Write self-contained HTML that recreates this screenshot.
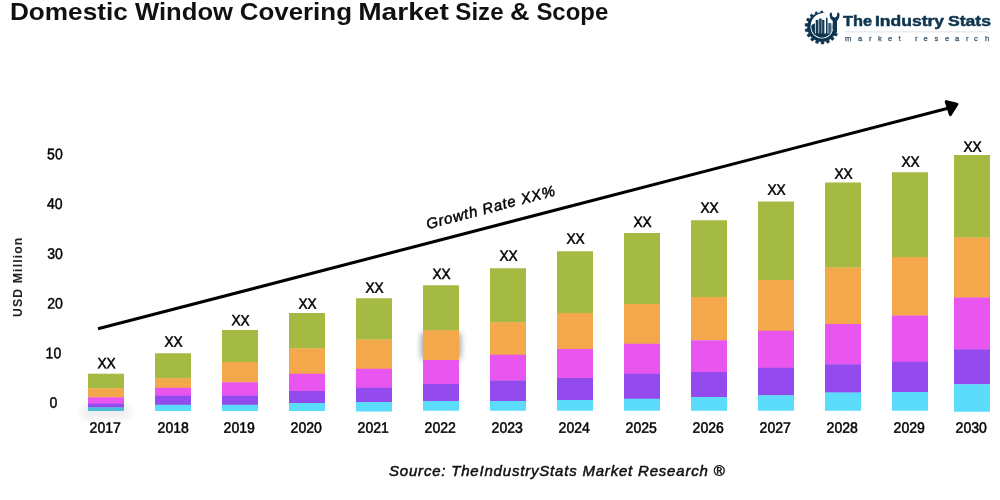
<!DOCTYPE html>
<html><head><meta charset="utf-8"><title>Domestic Window Covering Market Size &amp; Scope</title>
<style>
html,body{margin:0;padding:0;background:#fff;}
body{width:1000px;height:500px;overflow:hidden;font-family:"Liberation Sans",sans-serif;}
svg{display:block;will-change:transform;}
text{font-family:"Liberation Sans",sans-serif;}
.xx{font-size:15.0px;text-anchor:middle;fill:#000;stroke:#000;stroke-width:0.5px;}
.yr{font-size:15.0px;text-anchor:middle;fill:#000;stroke:#000;stroke-width:0.5px;}
.yl{font-size:15.2px;text-anchor:middle;fill:#000;stroke:#000;stroke-width:0.45px;}
.yt{font-size:12.3px;font-weight:bold;text-anchor:middle;fill:#222;letter-spacing:1.1px;}
.gr{font-size:15px;font-style:italic;fill:#000;letter-spacing:0.78px;stroke:#000;stroke-width:0.45px;}
.src{font-size:15px;font-style:italic;fill:#111;letter-spacing:0.8px;stroke:#111;stroke-width:0.5px;}
.ti{font-size:23.6px;font-weight:bold;fill:#111;}
.lg{font-size:15.4px;font-weight:bold;fill:#0d3550;stroke:#0d3550;stroke-width:0.5px;}
.mr{font-size:7.6px;fill:#34536b;stroke:#34536b;stroke-width:0.25px;}
</style></head><body>
<svg width="1000" height="500" viewBox="0 0 1000 500">
<defs><filter id="sh" x="-50%" y="-50%" width="200%" height="200%"><feGaussianBlur stdDeviation="3.2"/></filter><filter id="sh2" x="-50%" y="-100%" width="200%" height="300%"><feGaussianBlur stdDeviation="3.5"/></filter></defs>
<rect x="421.5" y="333" width="39" height="26" fill="#000" opacity="0.4" filter="url(#sh)"/>
<rect x="82" y="405" width="48" height="14" fill="#000" opacity="0.065" filter="url(#sh2)"/>
<rect x="88" y="373.7" width="36" height="14.85" fill="#a4ba43"/>
<rect x="88" y="388.25" width="36" height="9.35" fill="#f4a84c"/>
<rect x="88" y="397.3" width="36" height="6.60" fill="#e956ef"/>
<rect x="88" y="403.6" width="36" height="4.10" fill="#934bed"/>
<rect x="88" y="407.4" width="36" height="3.60" fill="#4bbcd5"/>
<rect x="155" y="353.25" width="36" height="25.30" fill="#a4ba43"/>
<rect x="155" y="378.25" width="36" height="9.80" fill="#f4a84c"/>
<rect x="155" y="387.75" width="36" height="8.30" fill="#e956ef"/>
<rect x="155" y="395.75" width="36" height="9.30" fill="#934bed"/>
<rect x="155" y="404.75" width="36" height="6.25" fill="#5bdcfb"/>
<rect x="222" y="330" width="36" height="32.30" fill="#a4ba43"/>
<rect x="222" y="362" width="36" height="20.55" fill="#f4a84c"/>
<rect x="222" y="382.25" width="36" height="13.80" fill="#e956ef"/>
<rect x="222" y="395.75" width="36" height="9.30" fill="#934bed"/>
<rect x="222" y="404.75" width="36" height="6.25" fill="#5bdcfb"/>
<rect x="289" y="313" width="36" height="35.55" fill="#a4ba43"/>
<rect x="289" y="348.25" width="36" height="25.80" fill="#f4a84c"/>
<rect x="289" y="373.75" width="36" height="17.55" fill="#e956ef"/>
<rect x="289" y="391" width="36" height="12.30" fill="#934bed"/>
<rect x="289" y="403" width="36" height="8.00" fill="#5bdcfb"/>
<rect x="356" y="298.25" width="36" height="41.55" fill="#a4ba43"/>
<rect x="356" y="339.5" width="36" height="29.55" fill="#f4a84c"/>
<rect x="356" y="368.75" width="36" height="19.30" fill="#e956ef"/>
<rect x="356" y="387.75" width="36" height="14.55" fill="#934bed"/>
<rect x="356" y="402" width="36" height="9.50" fill="#5bdcfb"/>
<rect x="423" y="285.25" width="36" height="45.30" fill="#a4ba43"/>
<rect x="423" y="330.25" width="36" height="30.05" fill="#f4a84c"/>
<rect x="423" y="360" width="36" height="24.30" fill="#e956ef"/>
<rect x="423" y="384" width="36" height="17.30" fill="#934bed"/>
<rect x="423" y="401" width="36" height="9.75" fill="#5bdcfb"/>
<rect x="490" y="268.25" width="36" height="54.30" fill="#a4ba43"/>
<rect x="490" y="322.25" width="36" height="32.80" fill="#f4a84c"/>
<rect x="490" y="354.75" width="36" height="26.05" fill="#e956ef"/>
<rect x="490" y="380.5" width="36" height="20.80" fill="#934bed"/>
<rect x="490" y="401" width="36" height="9.75" fill="#5bdcfb"/>
<rect x="557" y="251.25" width="36" height="62.05" fill="#a4ba43"/>
<rect x="557" y="313" width="36" height="36.30" fill="#f4a84c"/>
<rect x="557" y="349" width="36" height="29.30" fill="#e956ef"/>
<rect x="557" y="378" width="36" height="22.30" fill="#934bed"/>
<rect x="557" y="400" width="36" height="10.75" fill="#5bdcfb"/>
<rect x="624" y="233" width="36" height="71.30" fill="#a4ba43"/>
<rect x="624" y="304" width="36" height="40.05" fill="#f4a84c"/>
<rect x="624" y="343.75" width="36" height="30.30" fill="#e956ef"/>
<rect x="624" y="373.75" width="36" height="25.30" fill="#934bed"/>
<rect x="624" y="398.75" width="36" height="12.00" fill="#5bdcfb"/>
<rect x="691" y="220.25" width="36" height="77.05" fill="#a4ba43"/>
<rect x="691" y="297" width="36" height="43.55" fill="#f4a84c"/>
<rect x="691" y="340.25" width="36" height="32.05" fill="#e956ef"/>
<rect x="691" y="372" width="36" height="25.30" fill="#934bed"/>
<rect x="691" y="397" width="36" height="13.75" fill="#5bdcfb"/>
<rect x="758" y="201.5" width="36" height="78.80" fill="#a4ba43"/>
<rect x="758" y="280" width="36" height="51.05" fill="#f4a84c"/>
<rect x="758" y="330.75" width="36" height="37.30" fill="#e956ef"/>
<rect x="758" y="367.75" width="36" height="27.80" fill="#934bed"/>
<rect x="758" y="395.25" width="36" height="15.50" fill="#5bdcfb"/>
<rect x="825" y="182.5" width="36" height="85.30" fill="#a4ba43"/>
<rect x="825" y="267.5" width="36" height="56.80" fill="#f4a84c"/>
<rect x="825" y="324" width="36" height="40.55" fill="#e956ef"/>
<rect x="825" y="364.25" width="36" height="28.55" fill="#934bed"/>
<rect x="825" y="392.5" width="36" height="18.25" fill="#5bdcfb"/>
<rect x="892" y="172.25" width="36" height="85.05" fill="#a4ba43"/>
<rect x="892" y="257" width="36" height="58.80" fill="#f4a84c"/>
<rect x="892" y="315.5" width="36" height="46.55" fill="#e956ef"/>
<rect x="892" y="361.75" width="36" height="30.55" fill="#934bed"/>
<rect x="892" y="392" width="36" height="18.75" fill="#5bdcfb"/>
<rect x="954" y="155" width="36" height="82.80" fill="#a4ba43"/>
<rect x="954" y="237.5" width="36" height="60.30" fill="#f4a84c"/>
<rect x="954" y="297.5" width="36" height="52.05" fill="#e956ef"/>
<rect x="954" y="349.25" width="36" height="35.30" fill="#934bed"/>
<rect x="954" y="384.25" width="36" height="27.50" fill="#5bdcfb"/>
<text x="106.5" y="368.2" transform="rotate(0.2 106.5 368.4)" class="xx" textLength="18.2" lengthAdjust="spacingAndGlyphs">XX</text>
<text x="105.2" y="432.7" transform="rotate(0.2 105.2 432.7)" class="yr" textLength="31.2" lengthAdjust="spacingAndGlyphs">2017</text>
<text x="173.5" y="346.8" transform="rotate(0.2 173.5 347.0)" class="xx" textLength="18.2" lengthAdjust="spacingAndGlyphs">XX</text>
<text x="173.2" y="432.7" transform="rotate(0.2 173.2 432.7)" class="yr" textLength="31.2" lengthAdjust="spacingAndGlyphs">2018</text>
<text x="240.5" y="325.4" transform="rotate(0.2 240.5 325.6)" class="xx" textLength="18.2" lengthAdjust="spacingAndGlyphs">XX</text>
<text x="239.2" y="432.7" transform="rotate(0.2 239.2 432.7)" class="yr" textLength="31.2" lengthAdjust="spacingAndGlyphs">2019</text>
<text x="307.5" y="308.8" transform="rotate(0.2 307.5 309.0)" class="xx" textLength="18.2" lengthAdjust="spacingAndGlyphs">XX</text>
<text x="306.2" y="432.7" transform="rotate(0.2 306.2 432.7)" class="yr" textLength="31.2" lengthAdjust="spacingAndGlyphs">2020</text>
<text x="374.5" y="292.8" transform="rotate(0.2 374.5 293.0)" class="xx" textLength="18.2" lengthAdjust="spacingAndGlyphs">XX</text>
<text x="373.2" y="432.7" transform="rotate(0.2 373.2 432.7)" class="yr" textLength="31.2" lengthAdjust="spacingAndGlyphs">2021</text>
<text x="441.5" y="279.0" transform="rotate(0.2 441.5 279.2)" class="xx" textLength="18.2" lengthAdjust="spacingAndGlyphs">XX</text>
<text x="440.2" y="432.7" transform="rotate(0.2 440.2 432.7)" class="yr" textLength="31.2" lengthAdjust="spacingAndGlyphs">2022</text>
<text x="508.5" y="260.8" transform="rotate(0.2 508.5 261.0)" class="xx" textLength="18.2" lengthAdjust="spacingAndGlyphs">XX</text>
<text x="507.2" y="432.7" transform="rotate(0.2 507.2 432.7)" class="yr" textLength="31.2" lengthAdjust="spacingAndGlyphs">2023</text>
<text x="575.5" y="243.8" transform="rotate(0.2 575.5 244.0)" class="xx" textLength="18.2" lengthAdjust="spacingAndGlyphs">XX</text>
<text x="574.2" y="432.7" transform="rotate(0.2 574.2 432.7)" class="yr" textLength="31.2" lengthAdjust="spacingAndGlyphs">2024</text>
<text x="642.5" y="227.0" transform="rotate(0.2 642.5 227.2)" class="xx" textLength="18.2" lengthAdjust="spacingAndGlyphs">XX</text>
<text x="641.2" y="432.7" transform="rotate(0.2 641.2 432.7)" class="yr" textLength="31.2" lengthAdjust="spacingAndGlyphs">2025</text>
<text x="709.5" y="212.8" transform="rotate(0.2 709.5 213.0)" class="xx" textLength="18.2" lengthAdjust="spacingAndGlyphs">XX</text>
<text x="708.2" y="432.7" transform="rotate(0.2 708.2 432.7)" class="yr" textLength="31.2" lengthAdjust="spacingAndGlyphs">2026</text>
<text x="776.5" y="194.8" transform="rotate(0.2 776.5 195.0)" class="xx" textLength="18.2" lengthAdjust="spacingAndGlyphs">XX</text>
<text x="775.2" y="432.7" transform="rotate(0.2 775.2 432.7)" class="yr" textLength="31.2" lengthAdjust="spacingAndGlyphs">2027</text>
<text x="843.5" y="178.8" transform="rotate(0.2 843.5 179.0)" class="xx" textLength="18.2" lengthAdjust="spacingAndGlyphs">XX</text>
<text x="842.2" y="432.7" transform="rotate(0.2 842.2 432.7)" class="yr" textLength="31.2" lengthAdjust="spacingAndGlyphs">2028</text>
<text x="910.5" y="166.8" transform="rotate(0.2 910.5 167.0)" class="xx" textLength="18.2" lengthAdjust="spacingAndGlyphs">XX</text>
<text x="909.2" y="432.7" transform="rotate(0.2 909.2 432.7)" class="yr" textLength="31.2" lengthAdjust="spacingAndGlyphs">2029</text>
<text x="972.5" y="151.8" transform="rotate(0.2 972.5 152.0)" class="xx" textLength="18.2" lengthAdjust="spacingAndGlyphs">XX</text>
<text x="971.2" y="432.7" transform="rotate(0.2 971.2 432.7)" class="yr" textLength="31.2" lengthAdjust="spacingAndGlyphs">2030</text>
<text x="53.3" y="407.8" transform="rotate(0.2 53.3 407.8)" class="yl" textLength="7.8" lengthAdjust="spacingAndGlyphs">0</text>
<text x="53.4" y="358.2" transform="rotate(0.2 53.4 358.2)" class="yl" textLength="15.6" lengthAdjust="spacingAndGlyphs">10</text>
<text x="55.0" y="308.6" transform="rotate(0.2 55.0 308.6)" class="yl" textLength="15.6" lengthAdjust="spacingAndGlyphs">20</text>
<text x="55.0" y="258.9" transform="rotate(0.2 55.0 258.9)" class="yl" textLength="15.6" lengthAdjust="spacingAndGlyphs">30</text>
<text x="54.8" y="208.9" transform="rotate(0.2 54.8 208.9)" class="yl" textLength="15.6" lengthAdjust="spacingAndGlyphs">40</text>
<text x="54.9" y="159.2" transform="rotate(0.2 54.9 159.2)" class="yl" textLength="15.6" lengthAdjust="spacingAndGlyphs">50</text>
<text transform="translate(22.3,276.8) rotate(-90)" class="yt">USD Million</text>
<line x1="98" y1="328.8" x2="949" y2="108.0" stroke="#000" stroke-width="3.05"/>
<polygon points="946.2,101.6 956.9,104.3 950.3,114.6" fill="#000" stroke="#000" stroke-width="3" stroke-linejoin="round"/>
<text transform="translate(427.7,229.2) rotate(-14.8)" class="gr">Growth Rate XX%</text>
<text x="389" y="476.3" class="src">Source: TheIndustryStats Market Research ®</text>
<text x="9.9" y="20" class="ti" textLength="117.9" lengthAdjust="spacingAndGlyphs">Domestic</text>
<text x="135.0" y="20" class="ti" textLength="98.0" lengthAdjust="spacingAndGlyphs">Window</text>
<text x="239.7" y="20" class="ti" textLength="112.3" lengthAdjust="spacingAndGlyphs">Covering</text>
<text x="358.2" y="20" class="ti" textLength="90.6" lengthAdjust="spacingAndGlyphs">Market</text>
<text x="455.3" y="20" class="ti" textLength="48.3" lengthAdjust="spacingAndGlyphs">Size</text>
<text x="510.0" y="20" class="ti" textLength="19.5" lengthAdjust="spacingAndGlyphs">&amp;</text>
<text x="536.4" y="20" class="ti" textLength="71.9" lengthAdjust="spacingAndGlyphs">Scope</text>
<text x="843" y="26" class="lg" textLength="29.0" lengthAdjust="spacingAndGlyphs">The</text>
<text x="875" y="26" class="lg" textLength="69.0" lengthAdjust="spacingAndGlyphs">Industry</text>
<text x="947.9" y="26" class="lg" textLength="43.1" lengthAdjust="spacingAndGlyphs">Stats</text>
<rect x="845" y="31.2" width="144.5" height="1.3" fill="#e6eaed"/>
<text x="845" y="41" class="mr">m</text>
<text x="858" y="41" class="mr">a</text>
<text x="869" y="41" class="mr">r</text>
<text x="878" y="41" class="mr">k</text>
<text x="888" y="41" class="mr">e</text>
<text x="898.5" y="41" class="mr">t</text>
<text x="915" y="41" class="mr">r</text>
<text x="923.5" y="41" class="mr">e</text>
<text x="934.5" y="41" class="mr">s</text>
<text x="945" y="41" class="mr">e</text>
<text x="955" y="41" class="mr">a</text>
<text x="966" y="41" class="mr">r</text>
<text x="974" y="41" class="mr">c</text>
<text x="985" y="41" class="mr">h</text>
<g transform="translate(800,5) scale(0.09)"><path d="M397.2,300.7 L395.1,306.1 L392.9,311.3 L390.5,316.5 L387.9,321.5 L385.2,326.5 L382.2,331.4 L379.1,336.1 L375.9,340.8 L372.4,345.4 L368.9,349.8 L365.1,354.1 L361.3,358.2 L357.2,362.3 L353.1,366.1 L348.8,369.9 L344.4,373.4 L339.8,376.9 L335.1,380.1 L330.4,383.2 L325.5,386.2 L320.5,388.9 L315.5,391.5 L310.3,393.9 L305.1,396.1 L299.7,398.2 L294.4,400.0 L288.9,401.7 L283.4,403.2 L277.9,404.4 L272.3,405.5 L266.7,406.4 L261.0,407.1 L255.4,407.6 L249.7,407.9 L244.0,408.0 L238.3,407.9 L232.6,407.6 L227.0,407.1 L221.3,406.4 L215.7,405.5 L210.1,404.4 L204.6,403.2 L199.1,401.7 L193.6,400.0 L188.3,398.2 L182.9,396.1 L177.7,393.9 L172.5,391.5 L167.5,388.9 L162.5,386.2 L157.6,383.2 L152.9,380.1 L148.2,376.9 L143.6,373.4 L139.2,369.9 L134.9,366.1 L130.8,362.3 L126.7,358.2 L122.9,354.1 L119.1,349.8 L115.6,345.4 L112.1,340.8 L108.9,336.1 L105.8,331.4 L102.8,326.5 L100.1,321.5 L97.5,316.5 L95.1,311.3 L92.9,306.1 L90.8,300.7 L89.0,295.4 L87.3,289.9 L85.8,284.4 L84.6,278.9 L83.5,273.3 L82.6,267.7 L81.9,262.0 L81.4,256.4 L81.1,250.7 L81.0,245.0 L81.1,239.3 L81.4,233.6 L81.9,228.0 L82.6,222.3 L83.5,216.7 L84.6,211.1 L85.8,205.6 L87.3,200.1 L89.0,194.6 L90.8,189.3 L92.9,183.9 L95.1,178.7 L97.5,173.5 L100.1,168.5 L102.8,163.5 L105.8,158.6 L108.9,153.9 L112.1,149.2 L115.6,144.6 L119.1,140.2 L122.9,135.9 L126.7,131.8 L130.8,127.7 L134.9,123.9 L139.2,120.1 L143.6,116.6 L148.2,113.1 L152.9,109.9 L157.6,106.8 L162.5,103.8 L167.5,101.1 L172.5,98.5 L177.7,96.1 L182.9,93.9 L188.3,91.8 L193.6,90.0 L199.1,88.3 L204.6,86.8 L210.1,85.6 L215.7,84.5 L221.3,83.6 L227.0,82.9 L232.6,82.4 L238.3,82.1 L244.0,82.0 L249.7,82.1 L255.4,82.4 L261.0,82.9 L266.7,83.6 L272.3,84.5 L271.4,89.4 L265.9,89.3 L260.4,89.3 L254.9,89.6 L249.4,90.0 L244.0,90.6 L238.6,91.5 L233.3,92.5 L228.1,93.7 L222.9,95.0 L217.8,96.6 L212.8,98.3 L207.9,100.2 L203.1,102.2 L198.3,104.4 L193.7,106.8 L189.2,109.3 L184.8,112.0 L180.5,114.8 L176.3,117.7 L172.3,120.8 L168.4,124.0 L164.6,127.3 L161.0,130.7 L157.5,134.3 L154.2,137.9 L151.0,141.7 L147.9,145.5 L145.0,149.4 L142.3,153.4 L139.7,157.5 L137.3,161.6 L135.1,165.8 L133.0,170.1 L131.0,174.4 L129.3,178.8 L127.7,183.2 L126.2,187.6 L125.0,192.0 L123.9,196.5 L122.9,200.9 L122.2,205.4 L121.6,209.9 L120.8,214.3 L119.8,218.6 L118.9,222.9 L118.2,227.3 L117.7,231.7 L117.3,236.1 L117.1,240.6 L117.0,245.0 L117.1,249.4 L117.3,253.9 L117.7,258.3 L118.2,262.7 L118.9,267.1 L119.8,271.4 L120.8,275.7 L121.9,280.0 L123.2,284.2 L124.7,288.4 L126.2,292.6 L128.0,296.7 L129.9,300.7 L131.9,304.6 L134.0,308.5 L136.3,312.3 L138.7,316.0 L141.3,319.6 L143.9,323.2 L146.7,326.6 L149.6,330.0 L152.6,333.2 L155.8,336.4 L159.0,339.4 L162.4,342.3 L165.8,345.1 L169.4,347.7 L173.0,350.3 L176.7,352.7 L180.5,355.0 L184.4,357.1 L188.3,359.1 L192.3,361.0 L196.4,362.8 L200.6,364.3 L204.8,365.8 L209.0,367.1 L213.3,368.2 L217.6,369.2 L221.9,370.1 L226.3,370.8 L230.7,371.3 L235.1,371.7 L239.6,371.9 L244.0,372.0 L248.4,371.9 L252.9,371.7 L257.3,371.3 L261.7,370.8 L266.1,370.1 L270.4,369.2 L274.7,368.2 L279.0,367.1 L283.2,365.8 L287.4,364.3 L291.6,362.8 L295.7,361.0 L299.7,359.1 L303.6,357.1 L307.5,355.0 L311.3,352.7 L315.0,350.3 L318.6,347.7 L322.2,345.1 L325.6,342.3 L329.0,339.4 L332.2,336.4 L335.4,333.2 L338.4,330.0 L341.3,326.6 L344.1,323.2 L346.7,319.6 L349.3,316.0 L351.7,312.3 L354.0,308.5 L356.1,304.6 L358.1,300.7 L360.0,296.7 L361.8,292.6 L363.3,288.4 Z" fill="#0d3550"/><path d="M392.6,304.4 L417.1,321.0 L403.8,346.0 L376.3,334.9 Z" fill="#0d3550" stroke="#0d3550" stroke-width="6" stroke-linejoin="round"/><path d="M363.3,351.6 L380.6,375.6 L359.6,394.5 L337.6,374.8 Z" fill="#0d3550" stroke="#0d3550" stroke-width="6" stroke-linejoin="round"/><path d="M319.6,386.0 L327.7,414.4 L301.5,425.1 L287.6,399.0 Z" fill="#0d3550" stroke="#0d3550" stroke-width="6" stroke-linejoin="round"/><path d="M266.8,403.4 L264.7,432.9 L236.4,433.8 L232.3,404.6 Z" fill="#0d3550" stroke="#0d3550" stroke-width="6" stroke-linejoin="round"/><path d="M211.3,401.6 L199.2,428.6 L172.3,419.9 L178.4,390.9 Z" fill="#0d3550" stroke="#0d3550" stroke-width="6" stroke-linejoin="round"/><path d="M159.7,381.0 L139.1,402.2 L116.8,384.8 L132.5,359.7 Z" fill="#0d3550" stroke="#0d3550" stroke-width="6" stroke-linejoin="round"/><path d="M118.3,343.9 L91.7,356.9 L76.7,332.9 L99.9,314.6 Z" fill="#0d3550" stroke="#0d3550" stroke-width="6" stroke-linejoin="round"/><path d="M92.0,295.0 L62.6,298.0 L56.7,270.3 L84.8,261.2 Z" fill="#0d3550" stroke="#0d3550" stroke-width="6" stroke-linejoin="round"/><path d="M84.1,240.0 L55.4,232.8 L59.3,204.7 L88.9,205.8 Z" fill="#0d3550" stroke="#0d3550" stroke-width="6" stroke-linejoin="round"/><path d="M95.4,185.6 L70.9,169.0 L84.2,144.0 L111.7,155.1 Z" fill="#0d3550" stroke="#0d3550" stroke-width="6" stroke-linejoin="round"/><path d="M126.1,136.8 L110.7,115.4 L129.0,98.9 L148.8,116.4 Z" fill="#0d3550" stroke="#0d3550" stroke-width="6" stroke-linejoin="round"/><path d="M173.0,101.6 L167.4,80.8 L185.0,73.7 L195.5,92.5 Z" fill="#0d3550" stroke="#0d3550" stroke-width="6" stroke-linejoin="round"/><path d="M228.9,85.7 L230.5,68.2 L245.1,67.7 L247.9,85.0 Z" fill="#0d3550" stroke="#0d3550" stroke-width="6" stroke-linejoin="round"/><clipPath id="bowl"><rect x="100" y="316" width="300" height="80"/></clipPath><circle cx="244" cy="245" r="118" fill="#0d3550" clip-path="url(#bowl)"/><clipPath id="disc"><circle cx="244" cy="245" r="118"/></clipPath><g clip-path="url(#disc)"><polygon points="122,226 166,202 166,325 122,325" fill="#0d3550"/><rect x="175" y="165" width="30" height="160" fill="#0d3550"/><rect x="213" y="150" width="27" height="175" fill="#0d3550"/><rect x="246" y="165" width="25" height="160" fill="#0d3550"/><rect x="289" y="135" width="17" height="190" fill="#0d3550"/><rect x="314" y="200" width="32" height="125" fill="#3f6179"/><rect x="350" y="215" width="16" height="110" fill="#5b7a90"/><line x1="190" y1="175" x2="190" y2="315" stroke="#fff" stroke-width="3" stroke-dasharray="7 5" opacity="0.4"/><line x1="227" y1="160" x2="227" y2="315" stroke="#fff" stroke-width="3" stroke-dasharray="7 5" opacity="0.4"/><line x1="259" y1="175" x2="259" y2="315" stroke="#fff" stroke-width="3" stroke-dasharray="7 5" opacity="0.35"/></g><path d="M364,338 L364,176 C344,166 329,140 329,112 C329,99 332,91 338,85 C344,81 351,82 353,88 L358,120 C362,133 372,139 385,139 C398,139 406,133 410,120 L415,88 C417,82 424,81 430,85 C436,91 439,99 439,112 C439,140 426,166 411,176 L411,296 C401,318 386,332 364,338 Z" fill="#0d3550"/><circle cx="382.6" cy="325.0" r="10" fill="#0d3550"/><circle cx="247.0" cy="73.0" r="10" fill="#0d3550"/></g>
</svg>
</body></html>
